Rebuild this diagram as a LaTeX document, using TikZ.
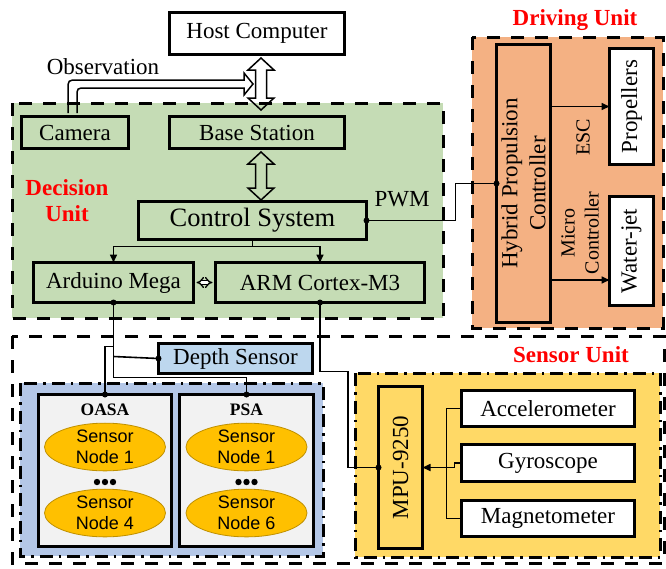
\documentclass[tikz,border=0pt]{standalone}
\usepackage{fontspec}
\setmainfont{Liberation Serif}
\newfontfamily\sansf{Liberation Sans}
\usetikzlibrary{arrows.meta,shapes.geometric,calc}
\definecolor{decgreen}{HTML}{C5DCB5}
\definecolor{drvorange}{HTML}{F4B183}
\definecolor{sblue}{HTML}{B4C7E7}
\definecolor{depthblue}{HTML}{BDD7EE}
\definecolor{syellow}{HTML}{FFD966}
\definecolor{boxgrey}{HTML}{F2F2F2}
\definecolor{nodeorange}{HTML}{FFC000}
\definecolor{nodeedge}{HTML}{BF9000}
\definecolor{unitred}{HTML}{FF0000}
\begin{document}
\begin{tikzpicture}[x=1pt,y=-1pt,
  mainfont/.style={font=\fontsize{23}{27}\selectfont},
  blk/.style={draw, line width=3.6pt, inner sep=0pt, outer sep=0pt, align=center, mainfont},
  region/.style={line width=3pt, dash pattern=on 13pt off 11pt},
  dregion/.style={line width=3pt, dash pattern=on 13pt off 6pt on 2.5pt off 6pt},
  conn/.style={line width=1.6pt},
  arr/.style={conn, -{Triangle[length=8pt,width=7pt]}},
  hollow/.style={line width=1.5pt, line join=miter},
  sensnode/.style={ellipse, draw=nodeedge, line width=0.8pt, fill=nodeorange, minimum width=121pt, minimum height=43pt, inner sep=0pt, align=center, font=\sansf\fontsize{18}{21}\selectfont},
  unitlabel/.style={text=unitred, font=\bfseries\fontsize{23}{26}\selectfont, align=center},
  sublabel/.style={font=\bfseries\fontsize{17.5}{20}\selectfont},
  rotlabel/.style={rotate=90, align=center, font=\fontsize{20}{24}\selectfont}
]
\useasboundingbox (0,0) rectangle (666,568);

% ---- regions ----
\fill[decgreen] (12,103) rectangle (443,318);
\draw[region] (12,103) rectangle (443,318);
\fill[drvorange] (472,37) rectangle (663,328);
\draw[region] (472,37) rectangle (663,328);
\draw[region] (12,336) rectangle (664,563);
\fill[sblue] (20,383) rectangle (323,556);
\draw[dregion] (20,383) rectangle (323,556);
\fill[syellow] (355,373) rectangle (660,557);
\draw[dregion] (355,373) rectangle (660,557);

% ---- unit labels ----
\node[unitlabel] (drvlbl) at (575,20) {Driving Unit};
\node[unitlabel] (declbl) at (67,201) {Decision\\Unit};
\node[unitlabel] (senlbl) at (571,355) {Sensor Unit};

% ---- blocks ----
\node[blk, fill=white, minimum width=175pt, minimum height=42pt] (host) at (257,33.5) {Host Computer};
\node[blk, minimum width=107pt, minimum height=32pt] (cam) at (75,132.5) {Camera};
\node[blk, minimum width=175pt, minimum height=32pt] (base) at (257,132.5) {Base Station};
\node[blk, minimum width=228pt, minimum height=38pt, font=\fontsize{26.5}{30}\selectfont] (ctrl) at (252.5,220.5) {Control System};
\node[blk, minimum width=160pt, minimum height=40pt] (ard) at (113.5,282.5) {Arduino Mega};
\node[blk, minimum width=209pt, minimum height=40pt] (arm) at (320,282.5) {ARM Cortex-M3};

\node[blk, minimum width=54pt, minimum height=278pt] (hyb) at (523.5,183.5) {};
\node[rotate=90, align=center, font=\fontsize{23}{28}\selectfont] (hybtxt) at (hyb.center) {Hybrid Propulsion\\Controller};
\node[blk, fill=white, minimum width=44pt, minimum height=116pt] (prop) at (631.5,106.5) {};
\node[rotate=90, mainfont] (proptxt) at (prop.center) {Propellers};
\node[blk, fill=white, minimum width=44pt, minimum height=109pt] (wat) at (631.5,251) {};
\node[rotate=90, mainfont] (wattxt) at (wat.center) {Water-jet};

\node[blk, fill=depthblue, minimum width=154pt, minimum height=30pt] (depth) at (235.5,358.5) {Depth Sensor};
\node[blk, fill=boxgrey, minimum width=133pt, minimum height=152pt] (oasa) at (105,470.5) {};
\node[blk, fill=boxgrey, minimum width=134pt, minimum height=152pt] (psa) at (246.5,470.5) {};
\node[sublabel] (oasalbl) at (105,410) {OASA};
\node[sublabel] (psalbl) at (246.5,410) {PSA};
\node[sensnode] (on1) at (105,447) {Sensor\\Node 1};
\node[sensnode] (on4) at (105,513) {Sensor\\Node 4};
\node[sensnode] (pn1) at (246.5,447) {Sensor\\Node 1};
\node[sensnode] (pn6) at (246.5,513) {Sensor\\Node 6};
\foreach \cx in {97,105,113,238.5,246.5,254.5}{\fill (\cx,482) circle (3.2pt);}

\node[blk, minimum width=44pt, minimum height=162pt] (mpu) at (400.5,467.5) {};
\node[rotate=90, mainfont] (mputxt) at (mpu.center) {MPU-9250};
\node[blk, fill=white, minimum width=173pt, minimum height=36pt] (acc) at (548,408.5) {Accelerometer};
\node[blk, fill=white, minimum width=173pt, minimum height=37pt] (gyr) at (548,463) {Gyroscope};
\node[blk, fill=white, minimum width=173pt, minimum height=36pt] (mag) at (548,518.5) {Magnetometer};

% ---- text labels ----
\node[mainfont] (obs) at (103,67) {Observation};
\node[mainfont] (pwm) at (402,199) {PWM};
\node[rotlabel] (esc) at (583,137) {ESC};
\node[rotlabel] (micro) at (580,233) {Micro\\Controller};

% ---- hollow arrows ----
\draw[hollow] (68,113) -- (68,90) .. controls (68,80) .. (78,80) -- (244,80) -- (244,73) -- (253,84)
  -- (244,95) -- (244,88) -- (86,88) .. controls (77,88) .. (77,97) -- (77,113);
\draw[hollow] (261,58) -- (274,70) -- (266.5,70) -- (266.5,98) -- (274,98) -- (261,110)
  -- (248,98) -- (255.5,98) -- (255.5,70) -- (248,70) -- cycle;
\draw[hollow] (261,152) -- (274,164) -- (266.5,164) -- (266.5,188) -- (274,188) -- (261,200)
  -- (248,188) -- (255.5,188) -- (255.5,164) -- (248,164) -- cycle;
\draw[line width=1.3pt, double distance=2.4pt, {Implies[length=4.5pt]}-{Implies[length=4.5pt]}]
  ([xshift=3pt]ard.east) -- ([xshift=-3pt]arm.west);

% ---- connectors ----
\draw[arr] (ctrl.south) -- ++(0,7) -| (ard.north);
\draw[arr] (ctrl.south) ++(0,7) -| (arm.north);
\draw[conn] (ctrl.east) -- ++(89,0) |- (hyb.west);
\fill (ctrl.east) circle (3pt);
\fill (hyb.west) circle (3pt);
\draw[arr] (prop.west -| hyb.east) -- (prop.west);
\draw[arr] ([yshift=-96.5pt]hyb.east) -- ([yshift=-96.5pt]hyb.east -| wat.west);

\draw[conn] (ard.south) -- ++(0,75) -| (psa.north);
\draw[conn] (ard.south) ++(0,54) -- (depth.west);
\draw[conn] (ard.south) ++(0,44) -- ++(-8.5,0) -- (oasa.north);
\fill (ard.south) circle (3pt);
\fill (depth.west) circle (3pt);
\fill (oasa.north) circle (3pt);
\fill (psa.north) circle (3pt);

\draw[conn] (arm.south) -- ++(0,69) -- ++(28,0) |- (mpu.west);
\fill (arm.south) circle (3pt);
\fill (mpu.west) circle (3pt);

\draw[conn] (acc.west) -- ++(-15,0) |- (mag.west);
\draw[arr] (gyr.west) -- ++(-7,0) -- ++(0,4.5) -- (mpu.east);
\end{tikzpicture}
\end{document}
